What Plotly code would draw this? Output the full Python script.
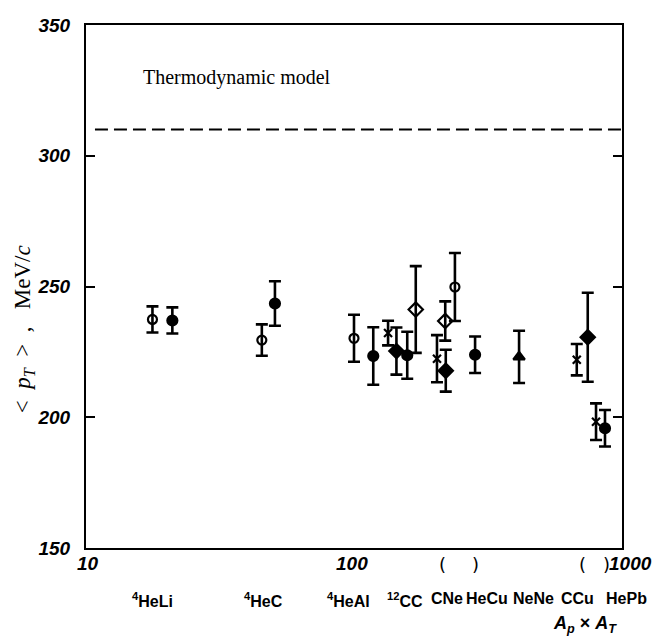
import math
import plotly.graph_objects as go

# ---------------- data ----------------
open_circle_x = [17.7, 45.3, 100, 238]
open_circle_y = [237.4, 229.5, 230.2, 249.8]
open_circle_err = [5, 6, 9, 13]

filled_circle_x = [21.0, 50.7, 118, 158, 283, 864]
filled_circle_y = [237.0, 243.5, 223.4, 223.7, 223.9, 195.8]
filled_circle_err = [5, 8.5, 11, 9, 7, 7]

cross_x = [134, 204, 678, 800]
cross_y = [232.2, 222.4, 222.0, 198.3]
cross_err = [4.7, 9, 6, 7]

filled_diamond_x = [144, 220, 745]
filled_diamond_y = [225.3, 217.8, 230.6]
filled_diamond_err = [9, 8, 17]

open_diamond_x = [170, 219]
open_diamond_y = [241.2, 236.8]
open_diamond_err = [16.6, 7.5]

triangle_x = [413]
triangle_y = [223.1]
triangle_err = [10]

thermo_x = [10.8, 1000]
thermo_y = [310, 310]

y_tick_vals = [150, 200, 250, 300, 350]
x_tick_vals = [10, 100, 1000]
x_tick_text = ["10", "100", "1000"]

category_labels = ["<sup>4</sup>HeLi", "<sup>4</sup>HeC", "<sup>4</sup>HeAl",
                   "<sup>12</sup>CC", "CNe", "HeCu", "NeNe", "CCu", "HePb"]

# ---------------- layout helpers ----------------
OFF = 8  # page body margin
W, H = 662 - OFF, 636 - OFF
L = 86 - OFF
T = 15 - OFF
R = W - (622 - OFF)
B = H - (548 - OFF)
PW = W - L - R
PH = H - T - B

def px_to_paper_x(px):
    return (px - OFF - L) / PW

def px_to_paper_y(py):
    return ((548 - OFF) - (py - OFF)) / PH

category_px = [152, 263, 348, 405, 447, 487, 533, 577, 626]
x_label_shift = [2, -2, 8]

fig = go.Figure()

def add_series(x, y, err, symbol, size, name):
    fig.add_trace(go.Scatter(
        x=x, y=y, mode="markers", name=name,
        marker=dict(symbol=symbol, size=size, color="black",
                    line=dict(color="black", width=2.2)),
        error_y=dict(type="data", array=err, visible=True, color="black",
                     thickness=2.6, width=6),
        showlegend=False,
    ))

fig.add_trace(go.Scatter(x=thermo_x, y=thermo_y, mode="lines",
                         line=dict(color="black", width=2, dash="13px,6px"),
                         showlegend=False))

add_series(open_circle_x, open_circle_y, open_circle_err, "circle-open", 9, "open circle")
add_series(filled_circle_x, filled_circle_y, filled_circle_err, "circle", 10, "filled circle")
add_series(cross_x, cross_y, cross_err, "x-thin", 8, "cross")
add_series(filled_diamond_x, filled_diamond_y, filled_diamond_err, "diamond", 11, "filled diamond")
add_series(open_diamond_x, open_diamond_y, open_diamond_err, "diamond-open", 11, "open diamond")
add_series(triangle_x, triangle_y, triangle_err, "triangle-up", 10, "triangle")

tickfont = dict(family="Liberation Sans, Arial, sans-serif", size=19,
                color="black", style="italic", weight="bold")

annotations = []
annotations.append(dict(x=px_to_paper_x(141), y=330, xref="paper", yref="y",
                        text="Thermodynamic model", showarrow=False,
                        xanchor="left", yanchor="middle",
                        font=dict(family="Liberation Serif, Times New Roman, serif",
                                  size=20, color="black")))

for val, txt, sh in zip(x_tick_vals, x_tick_text, x_label_shift):
    annotations.append(dict(x=math.log10(val), y=0, xref="x", yref="paper",
                            text=txt, showarrow=False, xanchor="center", yanchor="top",
                            xshift=sh, yshift=-3, font=tickfont))

for lab, px in zip(category_labels, category_px):
    annotations.append(dict(x=px_to_paper_x(px), y=0, xref="paper", yref="paper",
                            text=lab, showarrow=False, xanchor="center", yanchor="top",
                            yshift=-40,
                            font=dict(family="Liberation Sans Narrow, Liberation Sans, Arial, sans-serif",
                                      size=16, color="black", weight="bold")))

annotations.append(dict(x=px_to_paper_x(585), y=0, xref="paper", yref="paper",
                        text="<i>A</i><sub><i>p</i></sub> × <i>A</i><sub><i>T</i></sub>",
                        showarrow=False, xanchor="center", yanchor="top", yshift=-63,
                        font=dict(family="Liberation Sans, Arial, sans-serif",
                                  size=18, color="black", weight="bold")))

for ch, px in [("(", 442), (")", 475), ("(", 582), (")", 606)]:
    annotations.append(dict(x=px_to_paper_x(px), y=0, xref="paper", yref="paper",
                            text=ch, showarrow=False, xanchor="center", yanchor="top",
                            yshift=-4,
                            font=dict(family="DejaVu Sans, sans-serif", size=18, color="black")))

annotations.append(dict(x=px_to_paper_x(24), y=px_to_paper_y(325), xref="paper", yref="paper",
                        text="<  <i>p</i><sub><i>T</i></sub>  >  ,   MeV/<i>c</i>",
                        showarrow=False, textangle=-90, xanchor="center", yanchor="middle",
                        font=dict(family="Liberation Serif, Times New Roman, serif",
                                  size=23, color="black")))

fig.update_layout(
    width=W, height=H,
    margin=dict(l=L, r=R, t=T, b=B, pad=0),
    paper_bgcolor="white", plot_bgcolor="white",
    annotations=annotations,
    xaxis=dict(type="log", range=[1, 3], tickvals=x_tick_vals, showticklabels=False,
               ticks="", showgrid=False, zeroline=False,
               showline=True, linecolor="black", linewidth=2, mirror=True),
    yaxis=dict(range=[150, 350], tickvals=y_tick_vals, ticks="inside", ticklen=9,
               tickwidth=1.5, tickcolor="black",
               showgrid=False, zeroline=False,
               showline=True, linecolor="black", linewidth=2, mirror="ticks",
               tickfont=tickfont, ticklabelstandoff=10, ticklabeloverflow="allow"),
)

fig.write_html("out.html")
